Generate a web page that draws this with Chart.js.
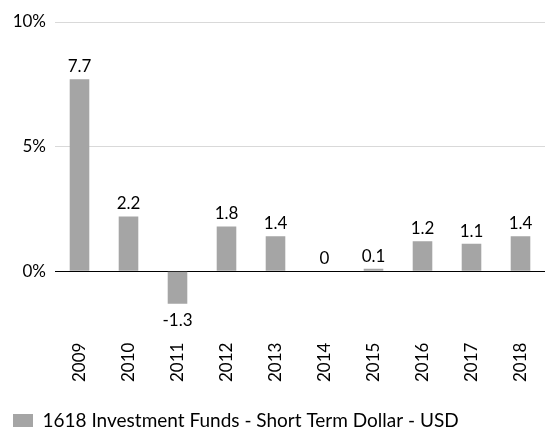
<!DOCTYPE html>
<html>
<head>
<meta charset="utf-8">
<script src="https://cdn.jsdelivr.net/npm/chart.js@4/dist/chart.umd.min.js"></script>
<style>
  body { margin: 0; background: #fff; }
  #wrap { width: 545px; height: 428px; }
</style>
</head>
<body>
<div id="wrap"><canvas id="fund-bar"></canvas></div>
<script>
const years = ['2009', '2010', '2011', '2012', '2013', '2014', '2015', '2016', '2017', '2018'];
const returns = [7.7, 2.2, -1.3, 1.8, 1.4, 0, 0.1, 1.2, 1.1, 1.4];
const yTicks = [0, 5, 10];
const seriesName = '1618 Investment Funds - Short Term Dollar - USD';

// draws the value above each bar (below for negatives)
const barValues = {
  id: 'barValues',
  afterDatasetsDraw(chart) {
    const ctx = chart.ctx;
    const meta = chart.getDatasetMeta(0);
    ctx.save();
    ctx.font = '17px Lato';
    ctx.fillStyle = '#000';
    ctx.textAlign = 'center';
    meta.data.forEach((bar, i) => {
      const v = returns[i];
      if (v < 0) {
        ctx.textBaseline = 'top';
        ctx.fillText(String(v), bar.x, bar.y + 8);
      } else {
        ctx.textBaseline = 'bottom';
        ctx.fillText(String(v), bar.x, bar.y - 4);
      }
    });
    ctx.restore();
  }
};

const fund_ctx = document.getElementById('fund-bar').getContext('2d');
const fundChart = new Chart(fund_ctx, {
  type: 'bar',
  plugins: [barValues],
  data: {
    labels: years,
    datasets: [{
      label: seriesName,
      data: returns,
      backgroundColor: '#a5a5a5',
      borderWidth: 0,
      barPercentage: 0.4,
      categoryPercentage: 1
    }]
  },
  options: {
    responsive: true,
    maintainAspectRatio: false,
    animation: false,
    layout: {
      padding: { left: 3, right: -5, top: 22, bottom: -12 }
    },
    scales: {
      x: {
        afterFit: s => { s.paddingRight = -5; s.height += 10; },
        grid: { display: false, drawTicks: false },
        border: { display: false },
        ticks: {
          minRotation: 90,
          maxRotation: 90,
          padding: 9,
          color: '#000',
          font: { family: 'Lato', size: 17 }
        }
      },
      y: {
        min: -2.5,
        max: 10,
        afterBuildTicks: s => { s.ticks = yTicks.map(v => ({ value: v })); },
        afterFit: s => { s.width = 52; },
        grid: {
          drawTicks: false,
          color: c => c.tick && c.tick.value === 0 ? '#000' : '#d9d9d9',
          lineWidth: 1
        },
        border: { display: false },
        ticks: {
          padding: 9,
          color: '#000',
          font: { family: 'Lato', size: 17 },
          callback: v => v + '%'
        }
      }
    },
    plugins: {
      legend: {
        position: 'bottom',
        align: 'start',
        labels: {
          boxWidth: 20,
          boxHeight: 13,
          padding: 10,
          color: '#000',
          font: { family: 'Lato', size: 19 }
        }
      },
      tooltip: { enabled: false }
    }
  }
});
</script>
</body>
</html>
